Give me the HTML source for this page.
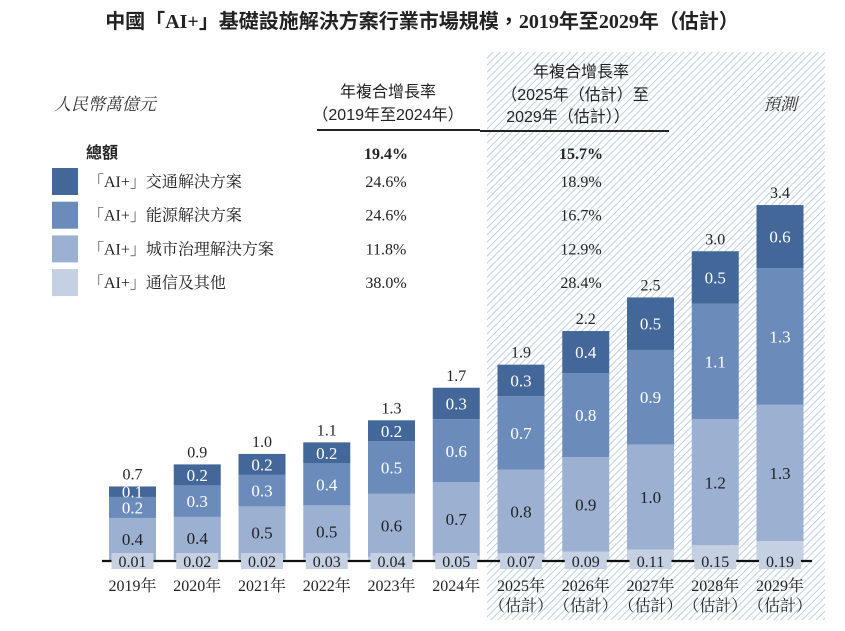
<!DOCTYPE html>
<html><head><meta charset="utf-8">
<style>
body{margin:0;background:#fff;}
svg{display:block;font-family:"Liberation Serif","Noto Serif CJK SC",serif;}
.cjk{font-family:"Liberation Sans","Noto Sans CJK TC",sans-serif;}
</style></head>
<body>
<svg id="chart" width="845" height="631" viewBox="0 0 845 631">
<defs>
<pattern id="hatch" width="5" height="5" patternUnits="userSpaceOnUse" patternTransform="rotate(45)">
<rect width="5" height="5" fill="#fff"/>
<line x1="0" y1="0" x2="0" y2="5" stroke="#bcd0e5" stroke-width="2"/>
</pattern>
</defs>
<rect x="487" y="52" width="338" height="568" fill="url(#hatch)"/>
<text x="422" y="28" text-anchor="middle" font-size="20" font-weight="bold" fill="#222" class="cjk">中國「<tspan font-family="Liberation Serif">AI+</tspan>」基礎設施解決方案行業市場規模，<tspan font-family="Liberation Serif">2019</tspan>年至<tspan font-family="Liberation Serif">2029</tspan>年（估計）</text>
<text x="54" y="110" font-size="17" font-style="italic" fill="#333">人民幣萬億元</text>
<text x="780" y="110" font-size="17" font-style="italic" fill="#333" text-anchor="middle">預測</text>
<g class="cjk" font-size="16" fill="#222" text-anchor="middle">
<text x="388" y="97">年複合增長率</text>
<text x="388" y="120">（2019年至2024年）</text>
<text x="581" y="77">年複合增長率</text>
<text x="575" y="100">（2025年（估計）至</text>
<text x="568" y="122">2029年（估計））</text>
</g>
<line x1="317" y1="130" x2="480" y2="130" stroke="#222" stroke-width="2"/>
<line x1="480" y1="131" x2="669" y2="131" stroke="#222" stroke-width="2"/>
<g id="legend"></g>
<g id="bars"></g>
<line x1="102" y1="561" x2="812" y2="561" stroke="#111" stroke-width="2.2"/>
<g id="smalls"></g>
<g id="xlabels"></g>
</svg>
<script>
const years=["2019年","2020年","2021年","2022年","2023年","2024年","2025年","2026年","2027年","2028年","2029年"];
const totals=["0.7","0.9","1.0","1.1","1.3","1.7","1.9","2.2","2.5","3.0","3.4"];
const other=[0.01,0.02,0.02,0.03,0.04,0.05,0.07,0.09,0.11,0.15,0.19];
const city=[0.4,0.4,0.5,0.5,0.6,0.7,0.8,0.9,1.0,1.2,1.3];
const energy=[0.2,0.3,0.3,0.4,0.5,0.6,0.7,0.8,0.9,1.1,1.3];
const transport=[0.1,0.2,0.2,0.2,0.2,0.3,0.3,0.4,0.5,0.5,0.6];
const legendNames=["「AI+」交通解決方案","「AI+」能源解決方案","「AI+」城市治理解決方案","「AI+」通信及其他"];
const cagrHist=["24.6%","24.6%","11.8%","38.0%"];
const cagrFcst=["18.9%","16.7%","12.9%","28.4%"];
const cagrTotal=["19.4%","15.7%"];
const colors=["#44679a","#6b8bbb","#9cb0d2","#c5d0e3"];
const NS="http://www.w3.org/2000/svg";
function mk(tag,attrs,parent,txt){const e=document.createElementNS(NS,tag);for(const k in attrs)e.setAttribute(k,attrs[k]);if(txt!=null)e.textContent=txt;parent.appendChild(e);return e;}
const base=561, unit=105, bw=47;
const xc=i=>132.5+i*64.75;
const y=v=>base-v*unit;
const lg=document.getElementById('legend');
let t=mk('text',{x:86,y:158,'font-size':16,'font-weight':'bold',fill:'#222',class:'cjk'},lg,'總額');


t=mk('text',{x:386,y:159,'font-size':16,'font-weight':'bold','text-anchor':'middle',fill:'#222'},lg,cagrTotal[0]);


t=mk('text',{x:581,y:159,'font-size':16,'font-weight':'bold','text-anchor':'middle',fill:'#222'},lg,cagrTotal[1]);


legendNames.forEach((n,i)=>{
  const yy=168+i*33.7;
  const r=mk('rect',{x:52,y:yy,width:26,height:27,fill:colors[i]},lg);
  
  
  const tx=mk('text',{x:88,y:yy+19,'font-size':16,fill:'#222'},lg,n);
  
  
  const a=mk('text',{x:386,y:yy+19,'font-size':16,fill:'#222','text-anchor':'middle'},lg,cagrHist[i]);
  
  
  const b=mk('text',{x:581,y:yy+19,'font-size':16,fill:'#222','text-anchor':'middle'},lg,cagrFcst[i]);
  
  
});
const g=document.getElementById('bars'), sm=document.getElementById('smalls'), xl=document.getElementById('xlabels');
const series=[other,city,energy,transport];
const segCol=[colors[3],colors[2],colors[1],colors[0]];
years.forEach((yr,i)=>{
  let acc=0;const x0=xc(i)-bw/2;
  series.forEach((s,k)=>{
    const v=s[i];
    const r=mk('rect',{x:x0,y:y(acc+v),width:bw,height:v*unit,fill:segCol[k]},g);
    
    
    if(k>0){
      const lt=mk('text',{x:xc(i),y:y(acc+v/2)+6,'font-size':17,'text-anchor':'middle',fill:k==1?'#222':'#fff'},g,v.toFixed(1));
      
      
    }
    acc+=v;
  });
  const tl=mk('text',{x:xc(i),y:y(acc)-7,'font-size':16,'text-anchor':'middle',fill:'#222'},g,totals[i]);
  
  
  const bx=mk('rect',{x:xc(i)-21,y:553,width:42,height:16,fill:colors[3]},sm);
  
  
  const st=mk('text',{x:xc(i),y:567,'font-size':16,'text-anchor':'middle',fill:'#222'},sm,other[i].toFixed(2));
  
  
  const xt=mk('text',{x:xc(i),y:591,'font-size':16,'text-anchor':'middle',fill:'#222'},xl,yr);
  
  
  if(i>=6){
    const e=mk('text',{x:xc(i),y:611,'font-size':16,'text-anchor':'middle',fill:'#222'},xl,'（估計）');
    
    
  }
});
</script>
</body></html>
